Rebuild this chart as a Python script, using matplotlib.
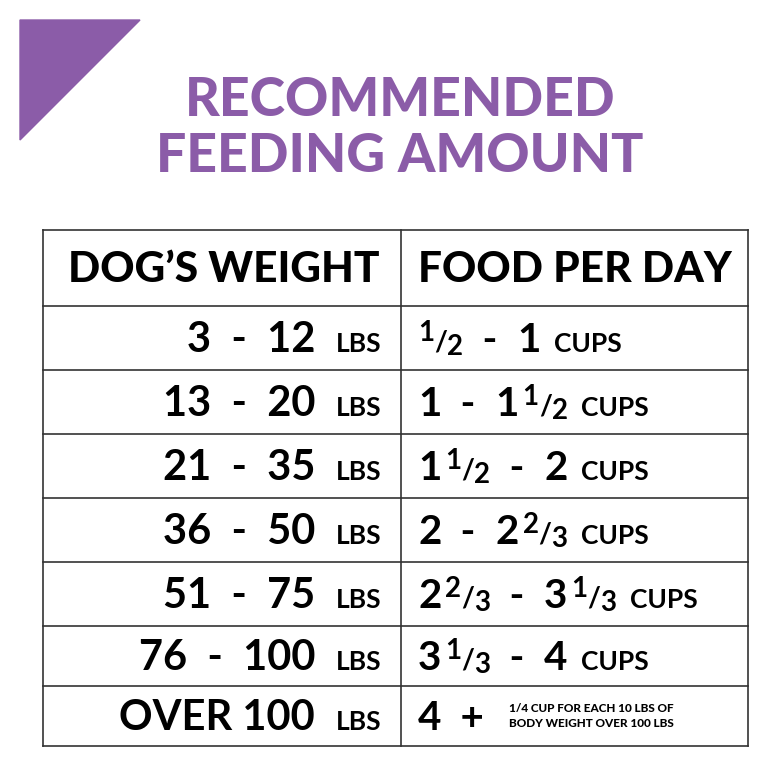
import matplotlib.pyplot as plt
from matplotlib.patches import Polygon

# table content
header = ["DOG\u2019S WEIGHT", "FOOD PER DAY"]
weights = ["3 - 12", "13 - 20", "21 - 35", "36 - 50", "51 - 75", "76 - 100", "OVER 100"]
food = ["1/2 - 1", "1 - 1 1/2", "1 1/2 - 2", "2 - 2 2/3", "2 2/3 - 3 1/3", "3 1/3 - 4", "4 +"]
note = "1/4 CUP FOR EACH 10 LBS OF\nBODY WEIGHT OVER 100 LBS"

PURPLE = "#8b5ca8"
FONT = "Lato"

fig = plt.figure(figsize=(7.68, 7.68), dpi=100)
ax = fig.add_axes([0, 0, 1, 1])
ax.set_xlim(0, 768)
ax.set_ylim(768, 0)
ax.axis("off")

ax.add_patch(Polygon([(20, 20), (140, 20), (20, 140)], color=PURPLE))
ax.text(400, 100, "RECOMMENDED", ha="center", va="center", fontsize=38.5,
        color=PURPLE, family=FONT, weight="heavy")
ax.text(400, 156, "FEEDING AMOUNT", ha="center", va="center", fontsize=38.5,
        color=PURPLE, family=FONT, weight="heavy")

# grid
x0, xm, x1 = 43, 401, 748
rows = [230, 306, 370, 434, 498, 562, 626, 686, 746]
for y in rows:
    ax.plot([x0, x1], [y, y], color="#333", lw=1.2)
for x in (x0, xm, x1):
    ax.plot([x, x], [rows[0], rows[-1]], color="#333", lw=1.2)

ax.text(380, 270, header[0], ha="right", va="center", fontsize=30.5, family=FONT, weight="heavy")
ax.text(418, 270, header[1], ha="left", va="center", fontsize=30.5, family=FONT, weight="heavy")

fig.canvas.draw()
renderer = fig.canvas.get_renderer()


def width(t):
    bb = t.get_window_extent(renderer)
    return bb.width


def draw_pieces(x, y, pieces, align="left"):
    # pieces: (text, fontsize, dy)
    items = []
    for s, fs, dy in pieces:
        t = ax.text(0, y + dy, s, ha="left", va="baseline", fontsize=fs,
                    family=FONT, weight="bold")
        items.append(t)
    widths = [width(t) for t in items]
    total = sum(widths)
    cx = x - total if align == "right" else x
    for t, w in zip(items, widths):
        t.set_x(cx)
        cx += w


def food_pieces(s):
    out = []
    for k, tok in enumerate(s.split(" ")):
        if tok in ("-", "+"):
            out.append(("  " + tok + "  ", 29, 0))
        elif "/" in tok:
            a, b = tok.split("/")
            if k > 0:
                out.append((" ", 12, 0))
            out.append((a, 20, -11))
            out.append(("/", 20, -2))
            out.append((b, 20, 3))
        else:
            out.append((tok, 29, 0))
    out.append(("  ", 20, 0))
    return out


for i, (w, f) in enumerate(zip(weights, food)):
    base = (rows[i + 1] + rows[i + 2]) / 2 + 14
    draw_pieces(381, base, [(w.replace(" - ", "  -  ") + "  ", 30, 0), ("LBS", 19, 0)], align="right")
    pieces = food_pieces(f)
    if i < len(food) - 1:
        pieces.append(("CUPS", 19, 0))
    draw_pieces(418, base, pieces)

ax.text(509, 716, note, ha="left", va="center", fontsize=8.5, family=FONT,
        weight="heavy", linespacing=1.5)

fig.savefig("out.png", dpi=100)
